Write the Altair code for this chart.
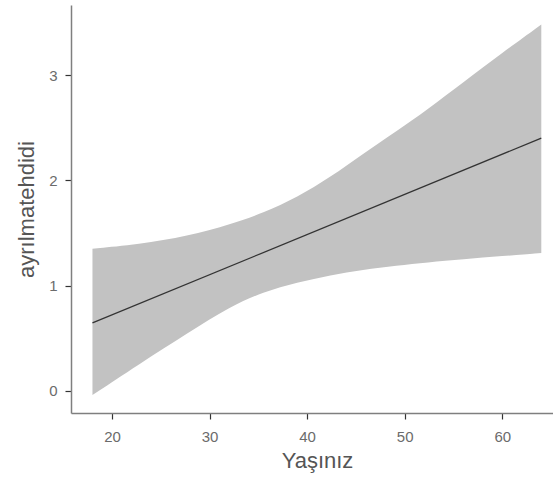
import altair as alt
import pandas as pd

# Band (confidence interval)
band_x = [18, 22.7, 27.8, 32.1, 35.5, 39, 42.4, 45.7, 49.2, 52.3, 56, 60, 64]
band_upper = [1.35, 1.39, 1.47, 1.58, 1.69, 1.84, 2.03, 2.25, 2.47, 2.67, 2.93, 3.21, 3.48]
band_lower = [-0.04, 0.25, 0.55, 0.80, 0.94, 1.03, 1.10, 1.15, 1.19, 1.22, 1.25, 1.28, 1.31]

# Fitted line
line_x = [18, 64]
line_y = [0.646, 2.40]

x_ticks = [20, 30, 40, 50, 60]
y_ticks = [0, 1, 2, 3]

band_df = pd.DataFrame({"x": band_x, "lo": band_lower, "hi": band_upper})
line_df = pd.DataFrame({"x": line_x, "y": line_y})

FONT = "Liberation Sans"

xscale = alt.Scale(domain=[15.8, 65.2], nice=False, zero=False)
yscale = alt.Scale(domain=[-0.21, 3.665], nice=False, zero=False)

xaxis = alt.Axis(
    title="Yaşınız", values=x_ticks, grid=False, format="d",
    domainColor="#7f7f7f", domainWidth=1.5,
    tickColor="#333333", tickSize=6, tickWidth=1.2,
    labelColor="#6b6b6b", labelFont=FONT, labelFontSize=15, labelPadding=10,
    titleColor="#555555", titleFont=FONT, titleFontSize=22, titleFontWeight="normal",
    titlePadding=6, titleX=246,
)
yaxis = alt.Axis(
    title="ayrılmatehdidi", values=y_ticks, grid=False, format="d",
    domainColor="#7f7f7f", domainWidth=1.5,
    tickColor="#333333", tickSize=6, tickWidth=1.2,
    labelColor="#6b6b6b", labelFont=FONT, labelFontSize=15, labelPadding=8,
    titleColor="#555555", titleFont=FONT, titleFontSize=22, titleFontWeight="normal",
    titlePadding=10,
)

band = alt.Chart(band_df).mark_area(color="#c2c2c2", opacity=1, interpolate="basis").encode(
    x=alt.X("x:Q", scale=xscale, axis=xaxis),
    y=alt.Y("lo:Q", scale=yscale, axis=yaxis),
    y2="hi:Q",
)

line = alt.Chart(line_df).mark_line(color="#333333", strokeWidth=1.3).encode(
    x=alt.X("x:Q", scale=xscale),
    y=alt.Y("y:Q", scale=yscale),
)

chart = (band + line).properties(
    width=482, height=408,
    autosize=alt.AutoSizeParams(type="none"),
    padding={"left": 71, "top": 5, "right": 0, "bottom": 78},
    background="white",
).configure_view(stroke=None)

chart.save("out.html", embed_options={"renderer": "svg", "actions": False})
